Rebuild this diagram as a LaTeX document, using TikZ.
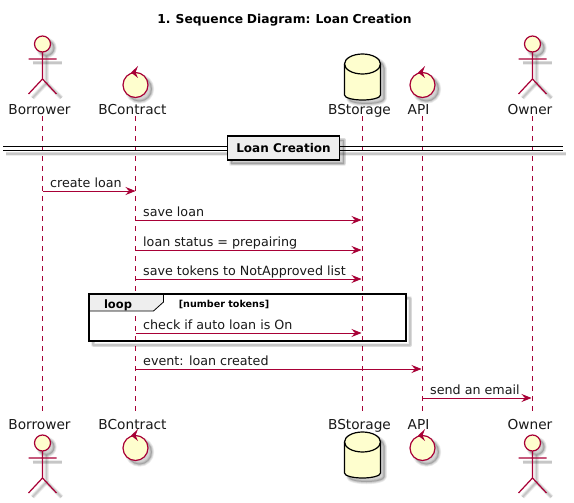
\documentclass[tikz,border=0pt]{standalone}
\usepackage{fontspec}
\setmainfont{DejaVu Sans}
\usetikzlibrary{arrows.meta,calc}
\definecolor{line}{HTML}{A80036}
\definecolor{fillc}{HTML}{FEFECE}
\definecolor{grp}{HTML}{EEEEEE}
\tikzset{
  x=1pt,y=-1pt,
  lbl/.style={font=\fontsize{13.7}{15}\selectfont,inner sep=0pt,text=black!90,anchor=base},
  msg/.style={font=\fontsize{12.7}{14}\selectfont,inner sep=0pt,anchor=base west,text=black!90},
  life/.style={draw=line,line width=.8pt,dash pattern=on 5pt off 5pt},
  arrowl/.style={draw=line,line width=.9pt,-{Stealth[length=10pt,width=8pt,inset=3.5pt]}},
  shapeline/.style={draw=line,line width=1.2pt},
  softa/.style={draw=black,opacity=.07,line width=4.5pt,line join=round},
  softb/.style={draw=black,opacity=.08,line width=3pt,line join=round},
  softc/.style={draw=black,opacity=.09,line width=1.5pt,line join=round},
  softf/.style={fill=black,opacity=.09},
}
\newcommand{\softline}[1]{\draw[softa] #1; \draw[softb] #1; \draw[softc] #1;}
\newcommand{\softarea}[1]{\fill[softf] #1; \draw[softa] #1; \draw[softb] #1; \draw[softc] #1; \fill[softf] #1;}
\newcommand{\actorfig}[2]{%
  \begin{scope}[shift={(#1,#2)}]
    \softarea{(4,4) circle (8)}
    \softline{(4,12) -- (4,39)}
    \softline{(-10,19) -- (19,19)}
    \softline{(4,39) -- (-10,54)}
    \softline{(4,39) -- (19,54)}
    \draw[shapeline,fill=fillc] (0,0) circle (8);
    \draw[shapeline] (0,8) -- (0,35) (-14,15) -- (14,15) (0,35) -- (-14,50) (0,35) -- (14,50);
  \end{scope}}
\newcommand{\controlfig}[2]{%
  \begin{scope}[shift={(#1,#2)}]
    \softarea{(4,4) circle (12.5)}
    \draw[shapeline,fill=fillc] (0,0) circle (12.5);
    \fill[line] (2.5,-19) -- (-4.5,-12.5) -- (2.5,-7) -- (0,-12.5) -- cycle;
  \end{scope}}
\newcommand{\dbfig}[2]{%
  \begin{scope}[shift={(#1,#2)}]
    \softarea{(-14,14) -- (-14,45) arc[start angle=180,end angle=0,x radius=18,y radius=5] -- (22,14) arc[start angle=0,end angle=-180,x radius=18,y radius=10] -- cycle}
    \draw[draw=black,line width=1.2pt,fill=fillc] (-18,10) -- (-18,41) arc[start angle=180,end angle=0,x radius=18,y radius=5] -- (18,10) arc[start angle=0,end angle=-180,x radius=18,y radius=10] -- cycle;
    \draw[draw=black,line width=1.2pt] (-18,10) arc[start angle=180,end angle=0,x radius=18,y radius=10];
  \end{scope}}
\begin{document}
\begin{tikzpicture}
\useasboundingbox (0,0) rectangle (574,503);
\fill[white] (0,0) rectangle (574,503);
\node[font=\fontsize{12.3}{16}\bfseries\selectfont,inner sep=0pt,anchor=base] (title) at (284.5,24) {\spaceskip=.3em 1. Sequence Diagram: Loan Creation};
% lifelines
\coordinate (bt) at (42.5,116); \coordinate (bb) at (42.5,411);
\coordinate (ct) at (135.5,116); \coordinate (cb) at (135.5,411);
\coordinate (st) at (362.5,116); \coordinate (sb) at (362.5,411);
\coordinate (at) at (422.5,116); \coordinate (ab) at (422.5,411);
\coordinate (ot) at (532.5,116); \coordinate (ob) at (532.5,411);
\draw[life] (bt) -- (bb);
\draw[life] (ct) -- (cb);
\draw[life] (st) -- (sb);
\draw[life] (at) -- (ab);
\draw[life] (ot) -- (ob);
% participants top
\actorfig{42.5}{44}
\controlfig{135.5}{85}
\dbfig{362.5}{54}
\controlfig{422.5}{85}
\actorfig{532.5}{44}
\node[lbl] (n1) at (39.5,114) {Borrower};
\node[lbl] (n2) at (132.5,114) {BContract};
\node[lbl] (n3) at (359.5,114) {BStorage};
\node[lbl] (n4) at (418.5,114) {API};
\node[lbl] (n5) at (530,114) {Owner};
% bottom
\actorfig{42.5}{443}
\controlfig{135.5}{448}
\dbfig{362.5}{432}
\controlfig{422.5}{448}
\actorfig{532.5}{443}
\node[lbl] (m1) at (39.5,429) {Borrower};
\node[lbl] (m2) at (132.5,429) {BContract};
\node[lbl] (m3) at (359.5,429) {BStorage};
\node[lbl] (m4) at (418.5,429) {API};
\node[lbl] (m5) at (530,429) {Owner};
% divider
\softline{(6,154) -- (566,154)}
\draw[black,line width=1pt] (3,147) -- (563,147) (3,151) -- (563,151);
\softarea{(231,140) rectangle (344,164)}
\node[draw=black,line width=1.8pt,fill=grp,minimum width=112pt,minimum height=24pt,inner sep=0pt,font=\fontsize{12}{14}\bfseries\selectfont] (div) at (283.5,148) {Loan Creation};
% messages
\coordinate (b1) at (42.5,191); \coordinate (c1) at (135.5,191);
\draw[arrowl] (b1) -- (c1);
\node[msg] (t1) at (50,187) {create loan};
\coordinate (c2) at (135.5,220); \coordinate (s2) at (361.5,220);
\draw[arrowl] (c2) -- (s2);
\node[msg] (t2) at (143,216) {save loan};
\coordinate (c3) at (135.5,250); \coordinate (s3) at (361.5,250);
\draw[arrowl] (c3) -- (s3);
\node[msg] (t3) at (143,246) {loan status = prepairing};
\coordinate (c4) at (135.5,279); \coordinate (s4) at (361.5,279);
\draw[arrowl] (c4) -- (s4);
\node[msg] (t4) at (143,275) {save tokens to NotApproved list};
% loop
\softline{(406,298) -- (410,298) -- (410,345) -- (93,345) -- (93,341)}
\fill[grp] (89,294) -- (163.5,294) -- (163.5,302) -- (153.5,311) -- (89,311) -- cycle;
\draw[black,line width=.8pt] (163.5,294) -- (163.5,302) -- (153.5,311) -- (89,311);
\draw[black,line width=2pt] (89,294) rectangle (406,341);
\node[inner sep=0pt,anchor=base,font=\fontsize{11.5}{14}\bfseries\selectfont] (lp) at (118,308) {loop};
\node[inner sep=0pt,anchor=base,font=\fontsize{9.6}{12}\bfseries\selectfont] (lg) at (224,307) {[number tokens]};
\coordinate (c5) at (135.5,333); \coordinate (s5) at (361.5,333);
\draw[arrowl] (c5) -- (s5);
\node[msg] (t5) at (143,329) {check if auto loan is On};
\coordinate (c6) at (135.5,369); \coordinate (a6) at (421.5,369);
\draw[arrowl] (c6) -- (a6);
\node[msg] (t6) at (143,365) {event: loan created};
\coordinate (a7) at (422.5,398); \coordinate (o7) at (531.5,398);
\draw[arrowl] (a7) -- (o7);
\node[msg] (t7) at (430,394) {send an email};
\end{tikzpicture}
\end{document}
